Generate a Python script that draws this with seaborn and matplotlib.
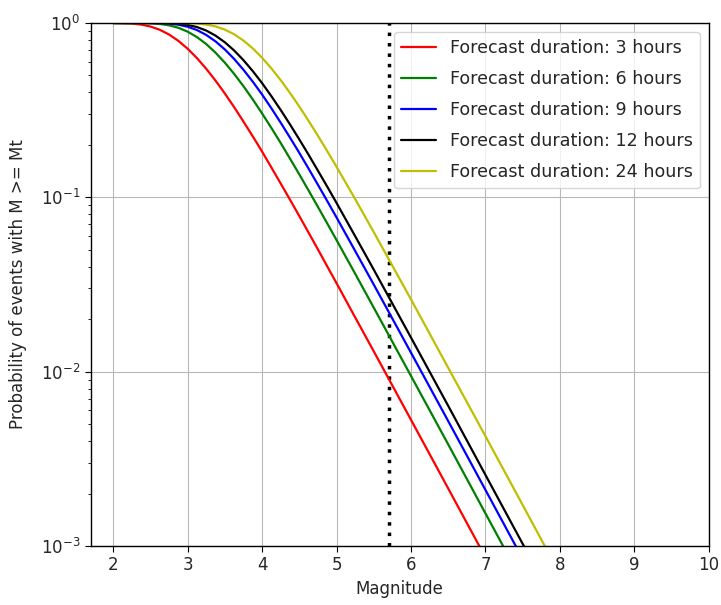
import numpy as np
import pandas as pd
import matplotlib
matplotlib.use("Agg")
import matplotlib.pyplot as plt
import seaborn as sns

magnitude = [2.0, 2.25, 2.375, 2.5, 2.625, 2.75, 2.875, 3.0, 3.125, 3.25, 3.375, 3.5,
             3.625, 3.75, 3.875, 4.0, 4.125, 4.25, 4.375, 4.5, 4.625, 4.75, 4.875,
             5.0, 5.25, 5.5, 6.0, 6.5, 7.0, 7.5, 8.0]

p_3h = [0.9995, 0.9923, 0.9793, 0.9545, 0.9146, 0.859, 0.790, 0.712, 0.629, 0.546,
        0.467, 0.394, 0.329, 0.272, 0.2237, 0.183, 0.1484, 0.120, 0.0970, 0.0781,
        0.0627, 0.0503, 0.0402, 0.0322, 0.0205, 0.01309, 0.00530, 0.00214, 0.000861,
        0.000347, 0.000140]
p_6h = [1.0, 0.99984, 0.9990, 0.9960, 0.9878, 0.970, 0.9389, 0.892, 0.830, 0.757,
        0.6755, 0.592, 0.5105, 0.434, 0.3644, 0.303, 0.2499, 0.205, 0.1668, 0.1354,
        0.1094, 0.0882, 0.0709, 0.0569, 0.0365, 0.0233, 0.00946, 0.00383, 0.00154,
        0.000620, 0.000250]
p_9h = [1.0, 0.99999, 0.99992, 0.99946, 0.9975, 0.9916, 0.9778, 0.952, 0.9107, 0.854,
        0.7843, 0.705, 0.6221, 0.539, 0.4607, 0.389, 0.3242, 0.268, 0.2201, 0.180,
        0.146, 0.1181, 0.0953, 0.0767, 0.0493, 0.0316, 0.01286, 0.00521, 0.00210,
        0.000845, 0.000340]
p_12h = [1.0, 1.0, 1.0, 0.9999, 0.99934, 0.9971, 0.9904, 0.9755, 0.9477, 0.905,
         0.8463, 0.775, 0.6954, 0.612, 0.5297, 0.452, 0.3803, 0.317, 0.262, 0.215,
         0.1754, 0.1423, 0.1152, 0.0929, 0.0599, 0.0385, 0.0157, 0.00637, 0.00256,
         0.00103, 0.000416]
p_24h = [1.0, 1.0, 1.0, 1.0, 1.0, 0.99994, 0.99957, 0.9979, 0.99265, 0.980,
         0.9557, 0.916, 0.8617, 0.793, 0.7151, 0.632, 0.5491, 0.470, 0.3968, 0.332,
         0.2744, 0.2255, 0.1841, 0.1497, 0.0978, 0.0632, 0.0260, 0.01053, 0.00427,
         0.00172, 0.000692]

series_labels = ["Forecast duration: 3 hours", "Forecast duration: 6 hours",
                 "Forecast duration: 9 hours", "Forecast duration: 12 hours",
                 "Forecast duration: 24 hours"]
series_values = [p_3h, p_6h, p_9h, p_12h, p_24h]
series_colors = ["red", "green", "blue", "black", "#bfbf00"]
target_magnitude = 5.7

rows = []
for lab, vals in zip(series_labels, series_values):
    for m, v in zip(magnitude, vals):
        rows.append({"Magnitude": m, "Probability": v, "Series": lab})
df = pd.DataFrame(rows)

sns.set_style("ticks")
plt.rcParams["font.family"] = ["DejaVu Sans"]
plt.rcParams["mathtext.fontset"] = "dejavusans"

fig = plt.figure(figsize=(7.21, 6.05), dpi=100)
ax = fig.add_axes([0.126, 0.0975, 0.857, 0.8645])

sns.lineplot(data=df, x="Magnitude", y="Probability", hue="Series",
             hue_order=series_labels, palette=dict(zip(series_labels, series_colors)),
             linewidth=1.6, ax=ax, legend=True)
ax.axvline(target_magnitude, color="black", linestyle=(0, (1, 2)), linewidth=2.5, zorder=1)

ax.set_yscale("log")
ax.set_ylim(1e-3, 1)
ax.set_xlim(1.7, 10)
ax.set_xticks(range(2, 11))
ax.grid(True, which="major", color="#b8b8b8", linewidth=0.8)
ax.set_axisbelow(True)
for s in ax.spines.values():
    s.set_visible(True)
    s.set_color("black")
    s.set_linewidth(1.0)
ax.tick_params(axis="both", which="major", labelsize=12, direction="out", length=4, color="black")
ax.tick_params(axis="y", which="minor", direction="out", length=2.5, color="black")
ax.set_xlabel("Magnitude", fontsize=12, labelpad=4)
ax.set_ylabel("Probability of events with M >= Mt", fontsize=12, labelpad=10)

leg = ax.legend(loc="upper right", fontsize=12.6, frameon=True, framealpha=0.8,
                edgecolor="#cccccc", handlelength=2.0, labelspacing=0.75,
                borderaxespad=0.5)
for h in leg.get_lines():
    h.set_linewidth(1.6)

fig.savefig("out.png", dpi=100)
